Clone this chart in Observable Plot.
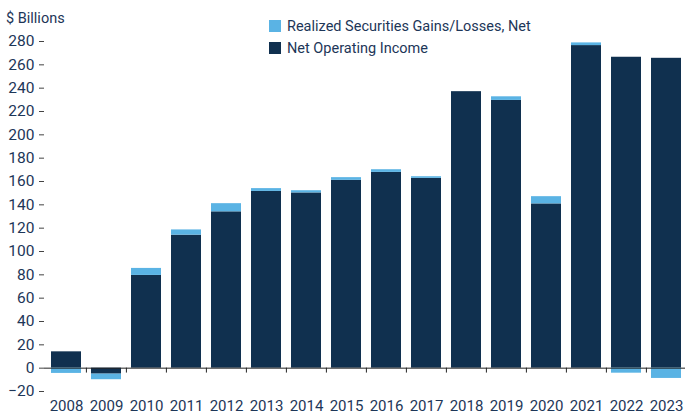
<!DOCTYPE html>
<html>
<head>
<meta charset="utf-8">
<script src="https://cdn.jsdelivr.net/npm/d3@7"></script>
<script src="https://cdn.jsdelivr.net/npm/@observablehq/plot@0.6"></script>
<style>
  html, body { margin: 0; padding: 0; background: #fff; }
  #wrap { position: relative; width: 685px; height: 415px; font-family: "Roboto", sans-serif; color: #1d3658; }
  #ylabel { position: absolute; left: 6px; top: 10px; font-size: 14.5px; }
  #legend { position: absolute; left: 269px; top: 15px; font-size: 14.5px; }
  .item { display: flex; align-items: center; height: 22px; }
  .sw { width: 12px; height: 12px; margin-right: 6px; flex: none; }
</style>
</head>
<body>
<div id="wrap">
  <div id="chart"></div>
  <div id="ylabel">$ Billions</div>
  <div id="legend"></div>
</div>
<script>
const years = ["2008","2009","2010","2011","2012","2013","2014","2015","2016","2017","2018","2019","2020","2021","2022","2023"];
const netOperating = [14, -5.1, 79.5, 114, 134, 151.5, 150.2, 161, 167.8, 162.7, 237, 229.5, 140.8, 276.5, 266.5, 265.6];
const securitiesGains = [-4.5, -4.8, 6, 4.5, 7, 2.4, 1.9, 2.3, 2.3, 1.4, 0, 3.1, 6.2, 2.3, -4.3, -8.8];
const seriesNames = ["Realized Securities Gains/Losses, Net", "Net Operating Income"];
const seriesColors = ["#5ab3e4", "#10304f"];
const yTicks = d3.range(-20, 281, 20);

const data = [
  ...years.map((year, i) => ({year, series: seriesNames[1], value: netOperating[i]})),
  ...years.map((year, i) => ({year, series: seriesNames[0], value: securitiesGains[i]}))
];

const font = '"Roboto", sans-serif';

const chart = Plot.plot({
  width: 685,
  height: 415,
  marginLeft: 44,
  marginRight: -3,
  marginTop: 41,
  marginBottom: 24,
  style: {fontFamily: font, fontSize: "15px", color: "#1d3658", background: "#fff", overflow: "visible"},
  x: {domain: years, paddingInner: 0.25, paddingOuter: 0.125, align: 0.5},
  y: {domain: [-20, 280]},
  color: {domain: seriesNames, range: seriesColors},
  marks: [
    Plot.barY(data, Plot.stackY({x: "year", y: "value", fill: "series", z: "series", order: null})),
    Plot.ruleY([0], {stroke: "#222", strokeWidth: 1}),
    Plot.ruleX(years.slice(1), {x: d => d, dx: -20.1, y1: 0, y2: -4.2, stroke: "#222"}),
    Plot.axisY({ticks: yTicks, tickSize: 5, tickPadding: 5, line: true, stroke: "#444", label: null, fill: "#1d3658", fontSize: 15.5}),
    Plot.axisX({tickSize: 0, tickPadding: 9, label: null, fill: "#1d3658", fontSize: 15})
  ]
});
document.getElementById("chart").appendChild(chart);

const scale = chart.scale("color");
const legendEl = document.getElementById("legend");
scale.domain.forEach((name) => {
  const item = document.createElement("div");
  item.className = "item";
  const sw = document.createElement("span");
  sw.className = "sw";
  sw.style.background = scale.apply(name);
  const label = document.createElement("span");
  label.textContent = name;
  item.appendChild(sw);
  item.appendChild(label);
  legendEl.appendChild(item);
});
</script>
</body>
</html>
